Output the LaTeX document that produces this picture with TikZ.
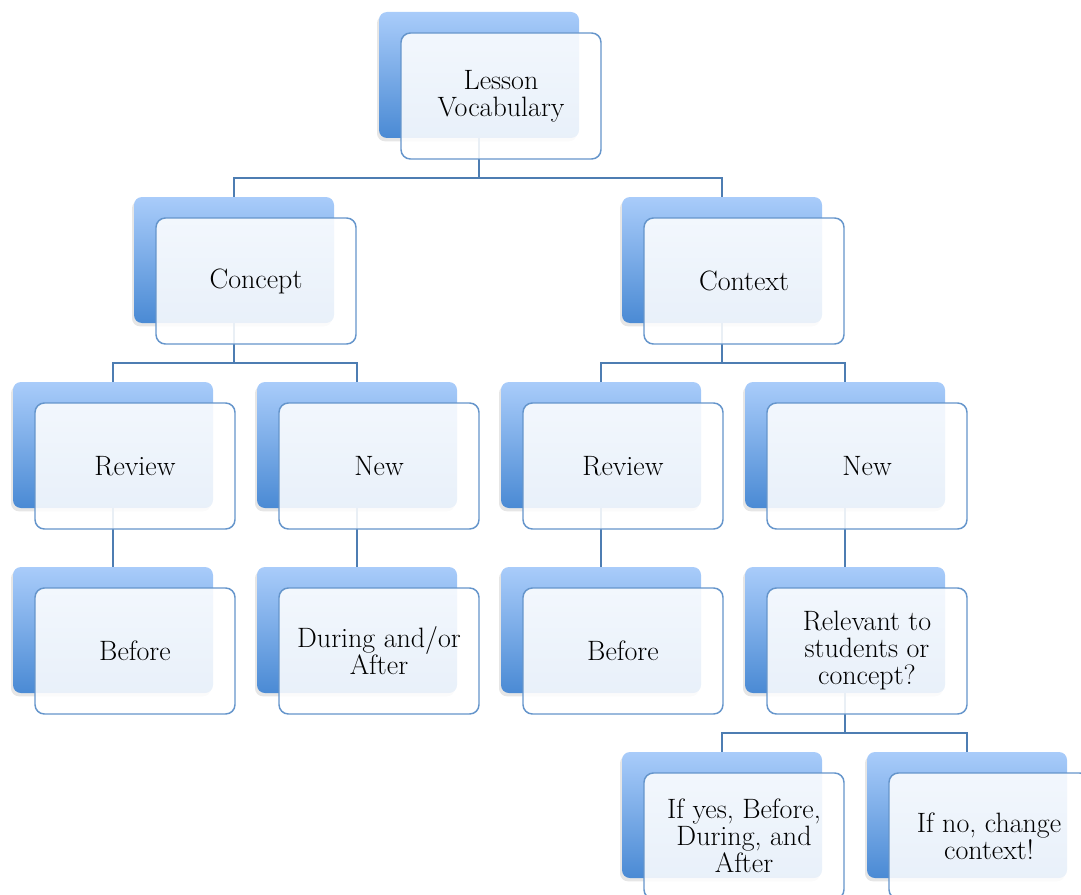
\documentclass[tikz,border=0pt]{standalone}
\usepackage{tikz}
\usetikzlibrary{shadows,calc}
\definecolor{boxtop}{HTML}{A9CCFA}
\definecolor{boxbot}{HTML}{4A8AD4}
\definecolor{boxline}{HTML}{6595CB}
\definecolor{linkcol}{HTML}{4D7DB2}

\begin{document}
\begin{tikzpicture}[x=0.75pt,y=-0.75pt,
    backbox/.style={shape=rectangle, rounded corners=6pt, minimum width=150pt, minimum height=94.5pt,
      top color=boxtop, bottom color=boxbot,
      drop shadow={shadow xshift=-1.5pt, shadow yshift=-2.5pt, opacity=0.2}},
    frontbox/.style={shape=rectangle, rounded corners=7pt, minimum width=150pt, minimum height=94.5pt,
      draw=boxline, line width=1.1pt, fill=white, fill opacity=0.88, text opacity=1,
      align=center, font=\fontsize{21}{20.25}\selectfont},
    link/.style={draw=linkcol, line width=1.1pt}]
    \useasboundingbox (0,0) rectangle (1081,895);
    \clip (0,0) rectangle (1081,895);

    % back boxes
    \foreach \n/\x/\y in {lesson/479/75, concept/234/260, context/722/260,
        reviewa/113/445, newa/357/445, reviewb/601/445, newb/845/445,
        beforea/113/630, during/357/630, beforeb/601/630, relevant/845/630,
        ifyes/722/815, ifno/967/815}
      \node[backbox] (b-\n) at (\x,\y) {};

    % connectors (bus halfway between front bottom and child top)
    \foreach \p/\c in {lesson/concept, lesson/context, concept/reviewa, concept/newa,
        context/reviewb, context/newb, reviewa/beforea, newa/during,
        reviewb/beforeb, newb/relevant, relevant/ifyes, relevant/ifno}
      \draw[link] (b-\p.south) |- ($(b-\p.south)!.5!(b-\c.north)+(0,10.5)$) -| (b-\c.north);

    % front boxes
    \foreach \n/\x/\y/\t in {lesson/479/75/{Lesson\\Vocabulary}, concept/234/260/Concept,
        context/722/260/Context, reviewa/113/445/Review, newa/357/445/New,
        reviewb/601/445/Review, newb/845/445/New, beforea/113/630/Before,
        during/357/630/{During and/or\\After}, beforeb/601/630/Before,
        relevant/845/630/{Relevant to\\students or\\concept?},
        ifyes/722/815/{If yes, Before,\\During, and\\After},
        ifno/967/815/{If no, change\\context!}}
      \node[frontbox] (\n) at ({\x+22},{\y+21}) {\t};
\end{tikzpicture}
\end{document}
